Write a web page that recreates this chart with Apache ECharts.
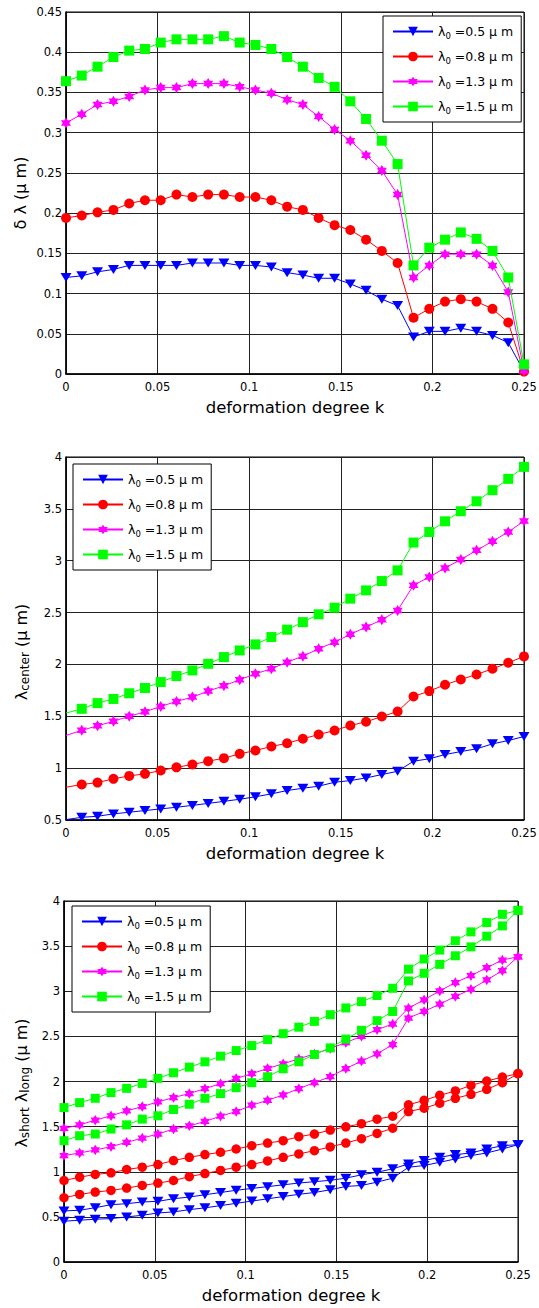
<!DOCTYPE html>
<html><head><meta charset="utf-8">
<script src="https://cdn.jsdelivr.net/npm/echarts@6/dist/echarts.min.js"></script>
<style>html,body{margin:0;padding:0;background:#fff}#c{width:539px;height:1308px}</style>
</head><body><div id="c"></div>
<script>
// deformation degree k (x values)
const k = [0,0.0086,0.0172,0.0259,0.0345,0.0431,0.0517,0.0603,0.0690,0.0776,0.0862,0.0948,0.1034,0.1121,0.1207,0.1293,0.1379,0.1466,0.1552,0.1638,0.1724,0.1810,0.1897,0.1983,0.2069,0.2155,0.2241,0.2328,0.2414,0.2500];
const lambda0 = ['0.5','0.8','1.3','1.5'];
const xTicks = [0,0.05,0.1,0.15,0.2,0.25];

// Chart 1: delta lambda
const dl05 = [0.120,0.122,0.127,0.130,0.135,0.135,0.135,0.135,0.138,0.138,0.138,0.135,0.135,0.133,0.126,0.123,0.119,0.119,0.112,0.104,0.093,0.085,0.046,0.053,0.053,0.057,0.053,0.048,0.039,0.003];
const dl08 = [0.194,0.197,0.201,0.204,0.212,0.216,0.216,0.223,0.220,0.223,0.223,0.220,0.220,0.216,0.208,0.204,0.194,0.185,0.179,0.167,0.153,0.138,0.070,0.081,0.090,0.093,0.090,0.081,0.064,0.003];
const dl13 = [0.312,0.323,0.335,0.339,0.345,0.353,0.356,0.356,0.361,0.361,0.361,0.357,0.353,0.349,0.341,0.335,0.320,0.304,0.290,0.272,0.253,0.223,0.120,0.135,0.149,0.149,0.149,0.135,0.102,0.004];
const dl15 = [0.364,0.371,0.382,0.394,0.402,0.404,0.412,0.416,0.416,0.416,0.420,0.412,0.409,0.404,0.394,0.382,0.368,0.357,0.339,0.317,0.290,0.261,0.135,0.157,0.167,0.176,0.168,0.153,0.120,0.012];

// Chart 2: lambda center
const lc05 = [0.504,0.526,0.536,0.559,0.575,0.591,0.607,0.623,0.641,0.660,0.680,0.700,0.724,0.752,0.784,0.806,0.826,0.864,0.880,0.906,0.938,0.970,1.067,1.090,1.131,1.160,1.186,1.234,1.266,1.305];
const lc08 = [0.816,0.842,0.861,0.897,0.925,0.945,0.977,1.008,1.035,1.067,1.096,1.138,1.170,1.209,1.240,1.283,1.324,1.363,1.411,1.447,1.498,1.546,1.691,1.743,1.804,1.855,1.903,1.958,2.016,2.077];
const lc13 = [1.315,1.365,1.408,1.452,1.500,1.543,1.595,1.643,1.685,1.743,1.794,1.852,1.910,1.958,2.022,2.080,2.151,2.215,2.290,2.360,2.431,2.521,2.763,2.843,2.930,3.011,3.100,3.187,3.277,3.383];
const lc15 = [1.531,1.572,1.627,1.667,1.722,1.773,1.830,1.888,1.942,2.006,2.071,2.135,2.193,2.264,2.335,2.408,2.483,2.547,2.634,2.714,2.804,2.907,3.175,3.277,3.380,3.477,3.573,3.680,3.789,3.905];

// Chart 3: lambda long (upper) and lambda short (lower)
const ll05 = [0.566,0.573,0.602,0.635,0.646,0.665,0.672,0.701,0.720,0.745,0.770,0.795,0.815,0.835,0.855,0.875,0.890,0.905,0.929,0.966,0.995,1.032,1.087,1.124,1.160,1.190,1.208,1.252,1.289,1.300];
const ls05 = [0.452,0.463,0.474,0.481,0.499,0.518,0.543,0.555,0.580,0.600,0.625,0.650,0.675,0.700,0.725,0.750,0.770,0.800,0.837,0.848,0.885,0.929,1.050,1.069,1.105,1.142,1.179,1.208,1.252,1.300];
const ll08 = [0.903,0.940,0.970,0.988,1.025,1.050,1.080,1.124,1.160,1.190,1.216,1.252,1.289,1.318,1.344,1.388,1.418,1.462,1.498,1.532,1.583,1.615,1.741,1.792,1.847,1.895,1.957,2.005,2.049,2.086];
const ls08 = [0.712,0.749,0.775,0.793,0.819,0.848,0.874,0.903,0.945,0.980,1.015,1.050,1.080,1.120,1.160,1.197,1.234,1.275,1.318,1.366,1.425,1.482,1.667,1.704,1.759,1.814,1.858,1.913,1.987,2.086];
const ll13 = [1.480,1.520,1.572,1.620,1.675,1.722,1.774,1.822,1.866,1.921,1.976,2.034,2.086,2.145,2.196,2.251,2.306,2.365,2.431,2.501,2.574,2.637,2.813,2.905,3.004,3.096,3.173,3.261,3.346,3.382];
const ls13 = [1.179,1.208,1.241,1.278,1.326,1.373,1.418,1.473,1.509,1.557,1.616,1.667,1.737,1.792,1.851,1.921,1.987,2.053,2.143,2.226,2.306,2.409,2.703,2.776,2.857,2.942,3.022,3.125,3.228,3.382];
const ll15 = [1.711,1.766,1.814,1.877,1.924,1.979,2.035,2.097,2.159,2.218,2.281,2.343,2.398,2.464,2.530,2.602,2.666,2.740,2.815,2.885,2.953,3.033,3.245,3.357,3.456,3.559,3.658,3.761,3.852,3.896];
const ls15 = [1.344,1.399,1.418,1.473,1.520,1.583,1.620,1.690,1.748,1.814,1.866,1.932,1.987,2.053,2.141,2.218,2.299,2.372,2.470,2.567,2.674,2.776,3.114,3.199,3.298,3.393,3.492,3.610,3.724,3.896];

const F = '"DejaVu Sans", "Liberation Sans", Arial, sans-serif';
const colors = ['#0000ff','#ff0000','#ff00ff','#00ff00'];
const TRI = 'path://M0,0 L10,0 L5,8 Z';
const HEX = 'path://M0,-10 L2.885,-5 L8.66,-5 L5.77,0 L8.66,5 L2.885,5 L0,10 L-2.885,5 L-8.66,5 L-5.77,0 L-8.66,-5 L-2.885,-5 Z';
const symbols = [TRI,'circle',HEX,'rect'];
const size12 = [[11,9],10,[10,11],10];
const size3 = [[11,9],9.5,[9.5,10.5],9];

function mk(idx, vals, gi, sizes, skipFirst){
  return {
    type:'line', name: lambda0[idx], xAxisIndex: gi, yAxisIndex: gi,
    data: vals.map((v,i)=> (skipFirst && i===0) ? {value:[k[i],v], symbol:'none'} : [k[i],v]),
    symbol: symbols[idx], symbolSize: sizes[idx], clip:false, showAllSymbol:true,
    lineStyle:{color:colors[idx], width:1}, itemStyle:{color:colors[idx]},
    emphasis:{disabled:true}, animation:false, z: 2+idx
  };
}

function xa(gi){
  return {type:'value', gridIndex:gi, min:0, max:0.25, interval:0.05,
    name:'deformation degree k', nameLocation:'middle', nameGap:25,
    nameTextStyle:{fontFamily:F, fontSize:16.5, color:'#000'},
    axisLine:{show:true, onZero:false, lineStyle:{color:'#000', width:1.5}},
    axisTick:{show:false},
    axisLabel:{fontFamily:F, fontSize:11.5, color:'#000', margin:7, showMinLabel:true, showMaxLabel:true,
      formatter: v => String(+(+v).toFixed(2))},
    splitLine:{show:true, lineStyle:{color:'#222', width:1}}};
}
function ya(gi, min, max){
  return {type:'value', gridIndex:gi, min:min, max:max, interval:(gi===0?0.05:0.5),
    axisLine:{show:true, onZero:false, lineStyle:{color:'#000', width:1.5}},
    axisTick:{show:false},
    axisLabel:{fontFamily:F, fontSize:11.5, color:'#000', margin:4, showMinLabel:true, showMaxLabel:true,
      formatter: v => String(+(+v).toFixed(2))},
    splitLine:{show:true, lineStyle:{color:'#222', width:1}}};
}
const legRich = {
  a:{fontFamily:F, fontSize:12.5, color:'#000', lineHeight:17, verticalAlign:'middle'},
  s:{fontFamily:F, fontSize:8.5, color:'#000', lineHeight:10, verticalAlign:'bottom'}
};
function lg(left, top){
  return {show:true, orient:'vertical', left:left, top:top, data:lambda0,
    itemWidth:40, itemHeight:12, itemGap:10, padding:[9,8,7,9],
    borderColor:'#000', borderWidth:1, backgroundColor:'#fff', borderRadius:0,
    selectedMode:false,
    formatter: n => '{a|λ}{s|0}{a| =' + n + ' μ m}',
    textStyle:{fontFamily:F, fontSize:12.5, color:'#000', rich:legRich}};
}
const nameRich = {
  n:{fontFamily:F, fontSize:16, fill:'#000', color:'#000', lineHeight:20, verticalAlign:'middle'},
  s:{fontFamily:F, fontSize:12, fill:'#000', color:'#000', lineHeight:12, verticalAlign:'bottom'}
};
function yname(x, y, txt){
  return {type:'text', x:x, y:y, rotation:Math.PI/2, z:10,
    style:{text:txt, rich:nameRich, align:'center', verticalAlign:'middle', fill:'#000', fontFamily:F, fontSize:16}};
}

const gridBase = {show:true, borderColor:'#000', borderWidth:1, backgroundColor:'transparent', containLabel:false, outerBoundsMode:'none'};
const option = {
  animation:false,
  backgroundColor:'#fff',
  grid:[
    Object.assign({left:66, top:12, width:458, height:362}, gridBase),
    Object.assign({left:66, top:457, width:458, height:363}, gridBase),
    Object.assign({left:64, top:901, width:454, height:361}, gridBase)
  ],
  xAxis:[xa(0), xa(1), xa(2)],
  yAxis:[ya(0,0,0.45), ya(1,0.5,4), ya(2,0,4)],
  legend:[lg(383,16), lg(73,464), lg(72,906)],
  graphic:[
    yname(20,193,'{n|δ λ (μ m)}'),
    yname(21,652,'{n|λ}{s|center}{n| (μ m)}'),
    yname(21,1083,'{n|λ}{s|short}{n| λ}{s|long}{n| (μ m)}')
  ],
  series:[
    mk(0,dl05,0,size12,false), mk(1,dl08,0,size12,false), mk(2,dl13,0,size12,false), mk(3,dl15,0,size12,false),
    mk(0,lc05,1,size12,true), mk(1,lc08,1,size12,true), mk(2,lc13,1,size12,true), mk(3,lc15,1,size12,true),
    mk(0,ls05,2,size3,false), mk(0,ll05,2,size3,false),
    mk(1,ls08,2,size3,false), mk(1,ll08,2,size3,false),
    mk(2,ls13,2,size3,false), mk(2,ll13,2,size3,false),
    mk(3,ls15,2,size3,false), mk(3,ll15,2,size3,false)
  ]
};
const chart = echarts.init(document.getElementById('c'), null, {renderer:'svg', width:539, height:1308});
chart.setOption(option);
</script>
</body></html>
